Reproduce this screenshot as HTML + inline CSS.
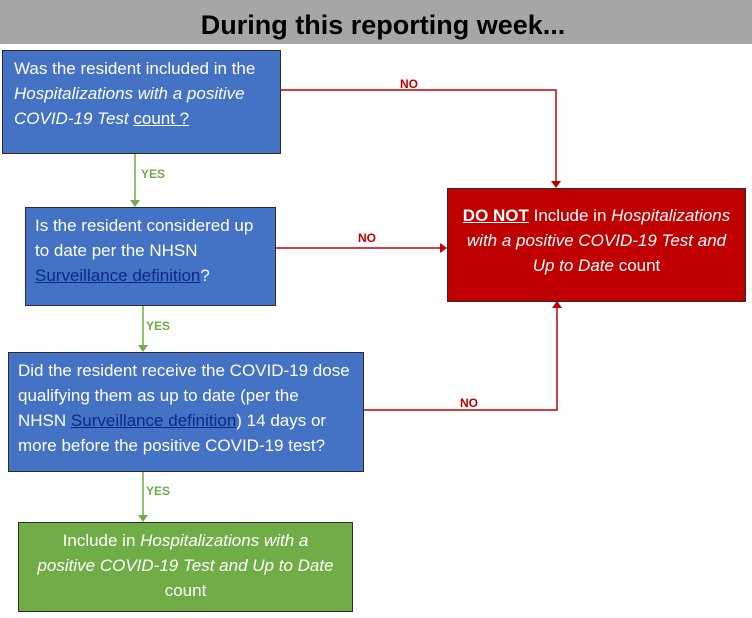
<!DOCTYPE html>
<html><head><meta charset="utf-8"><style>
body{margin:0;width:752px;height:618px;background:#fff;position:relative;overflow:hidden;font-family:"Liberation Sans",sans-serif;}
.hdr{position:absolute;left:0;top:0;width:752px;height:44px;background:#a6a6a6;}
.hdr div{position:absolute;left:14px;right:0;top:10px;text-align:center;font-weight:bold;font-size:27px;color:#000;}
.b{position:absolute;box-sizing:border-box;border:1.5px solid #2b2b2b;color:#fff;font-size:17px;line-height:25px;white-space:nowrap;}
.blue{background:#4472c4;}
.u{text-decoration:underline;}
.lk{color:#0c2a8a;text-decoration:underline;}
.lbl{position:absolute;font-size:12px;font-weight:bold;}
.y{color:#70ad47;}.n{color:#c00000;}
svg{position:absolute;left:0;top:0;}
</style></head><body>
<div class="hdr"><div>During this reporting week...</div></div>
<svg width="752" height="618">
<g stroke="#c00000" stroke-width="1.5" fill="none">
<polyline points="280,90 556,90 556,182"/>
<line x1="275" y1="248" x2="441" y2="248"/>
<polyline points="363,410 557,410 557,307"/>
</g>
<g fill="#c00000">
<polygon points="551,181 561,181 556,188"/>
<polygon points="440,243 440,253 447,248"/>
<polygon points="552,308 562,308 557,301"/>
</g>
<g stroke="#70ad47" stroke-width="1.5">
<line x1="135" y1="153" x2="135" y2="201"/>
<line x1="143" y1="305" x2="143" y2="346"/>
<line x1="143" y1="471" x2="143" y2="516"/>
</g>
<g fill="#70ad47">
<polygon points="130,200 140,200 135,207"/>
<polygon points="138,345 148,345 143,352"/>
<polygon points="138,515 148,515 143,522"/>
</g>
</svg>
<div class="b blue" style="left:2px;top:50px;width:279px;height:104px;padding:5px 0 0 11px;">Was the resident included in the<br><i>Hospitalizations with a positive</i><br><i>COVID-19 Test</i> <span class="u">count ?</span></div>
<div class="b blue" style="left:25px;top:207px;width:251px;height:99px;padding:5px 0 0 9px;">Is the resident considered up<br>to date per the NHSN<br><span class="lk">Surveillance definition</span>?</div>
<div class="b blue" style="left:8px;top:352px;width:356px;height:120px;padding:5px 0 0 9px;">Did the resident receive the COVID-19 dose<br>qualifying them as up to date (per the<br>NHSN <span class="lk">Surveillance definition</span>) 14 days or<br>more before the positive COVID-19 test?</div>
<div class="b" style="left:18px;top:522px;width:335px;height:90px;background:#70ad47;text-align:center;padding-top:5px;">Include in <i>Hospitalizations with a</i><br><i>positive COVID-19 Test and Up to Date</i><br>count</div>
<div class="b" style="left:447px;top:188px;width:299px;height:114px;background:#c00000;text-align:center;padding-top:14px;"><b class="u">DO NOT</b> Include in <i>Hospitalizations</i><br><i>with a positive COVID-19 Test and</i><br><i>Up to Date</i> count</div>
<div class="lbl n" style="left:400px;top:77px;">NO</div>
<div class="lbl n" style="left:358px;top:231px;">NO</div>
<div class="lbl n" style="left:460px;top:396px;">NO</div>
<div class="lbl y" style="left:141px;top:167px;">YES</div>
<div class="lbl y" style="left:146px;top:319px;">YES</div>
<div class="lbl y" style="left:146px;top:484px;">YES</div>
</body></html>
